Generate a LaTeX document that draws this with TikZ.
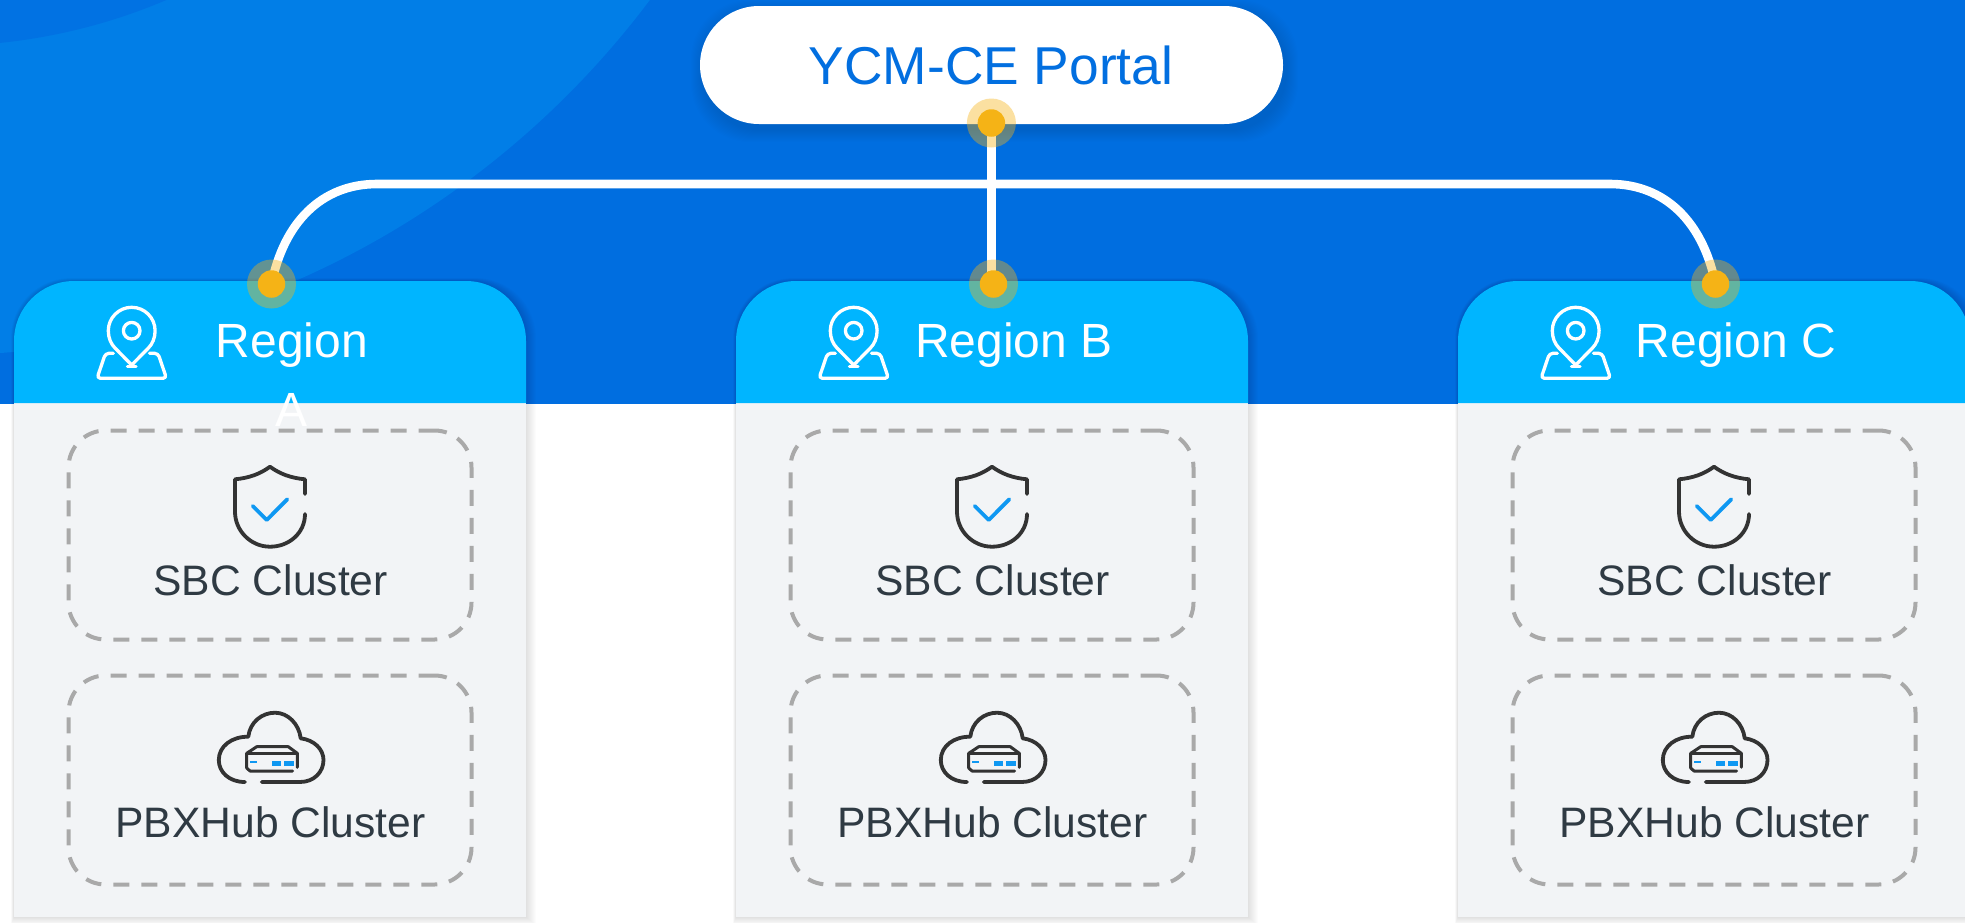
\documentclass[tikz,border=0pt]{standalone}
\usepackage{fontspec}
\setmainfont{Liberation Sans}
\usetikzlibrary{shapes.misc}
\definecolor{bgbase}{HTML}{006EE0}
\definecolor{bgmid}{HTML}{017EE7}
\definecolor{bginner}{HTML}{0172E3}
\definecolor{headcyan}{HTML}{00B5FF}
\definecolor{panelgray}{HTML}{F2F4F6}
\definecolor{dashgray}{HTML}{A9A9A9}
\definecolor{darktext}{HTML}{2F3A43}
\definecolor{iconblack}{HTML}{333333}
\definecolor{iconblue}{HTML}{0F98F2}
\definecolor{dotorange}{HTML}{F5B316}
\definecolor{portalblue}{HTML}{026FE0}
\tikzset{
  x=1pt,y=-1pt,
  clusterbox/.style={draw=dashgray,line width=4pt,dash pattern=on 16pt off 12pt,rounded corners=37pt,
    minimum width=403pt,minimum height=209pt,inner sep=0pt},
  clustertext/.style={text=darktext,font=\fontsize{42.6}{50}\selectfont,inner sep=0pt,anchor=base},
  regiontext/.style={text=white,font=\fontsize{48}{69}\selectfont,inner sep=0pt,align=center},
  link/.style={draw=white,line width=8.6pt},
  halo/.style={circle,fill=dotorange,fill opacity=.4,minimum size=49pt,inner sep=0pt},
  dotcore/.style={circle,fill=dotorange,minimum size=27.5pt,inner sep=0pt},
  iconline/.style={draw=iconblack,line width=3.8pt,line cap=round,line join=round},
  pinline/.style={draw=white,line width=3.3pt,line cap=round,line join=round},
  checkline/.style={draw=iconblue,line width=3.8pt,line cap=round,line join=round},
}
\begin{document}
\begin{tikzpicture}
\clip (0,0) rectangle (1965,922);
\fill[white] (0,0) rectangle (1965,922);
% backdrop
\begin{scope}
  \clip (0,0) rectangle (1965,404);
  \fill[bgbase] (0,0) rectangle (1965,404);
  \fill[bgmid] (-60,-532) circle[radius=887pt];
  \fill[bginner] (-60,-532) circle[radius=578pt];
\end{scope}
% portal
\foreach \s in {1,...,12}{
  \fill[black,opacity=.009,rounded corners=59pt] (700-\s+3,6-\s+6) rectangle (1283+\s+3,124+\s+6);
}
\node[rounded rectangle,fill=white,minimum width=583pt,minimum height=118pt,inner sep=0pt] (portal) at (991.5,65) {};
\node[text=portalblue,font=\fontsize{53.3}{60}\selectfont,inner sep=0pt,anchor=base] (portaltext) at (991,84) {YCM-CE Portal};
\coordinate (dotP) at (991.4,123);
\coordinate (bendL) at (377,184);
\coordinate (bendR) at (1610,184);
% region columns
\foreach \dx/\nm/\lab in {0/A/{Region\\A},722/B/{Region B},1444/C/{Region C}}{
  \begin{scope}[shift={(\dx,0)}]
    \foreach \s in {1,...,10}{
      \fill[black,opacity=.01] (14-0.3*\s,917+0.8*\s) [rounded corners=60pt] -- (14-0.3*\s,281-0.3*\s) -- (526+\s,281-0.3*\s) [sharp corners] -- (526+\s,917+0.8*\s) -- cycle;
    }
    \fill[panelgray] (14,403) rectangle (526,917);
    \fill[headcyan] (14,403) [rounded corners=60pt] -- (14,281) -- (526,281) [sharp corners] -- (526,403) -- cycle;
    \coordinate (dot\nm) at (271.5,284);
    % pin icon
    \draw[pinline] (131.7,365) -- (115,348) .. controls (111,344) and (108.3,338) .. (108.3,330.7)
      .. controls (108.3,317.8) and (118.8,307.3) .. (131.7,307.3)
      .. controls (144.6,307.3) and (155.1,317.8) .. (155.1,330.7)
      .. controls (155.1,338) and (152.4,344) .. (148.4,348) -- cycle;
    \draw[pinline] (131.7,330.7) circle[radius=8.3pt];
    \draw[pinline] (127.5,366.5) -- (136,366.5);
    \draw[pinline,rounded corners=3.5pt] (113.3,353.3) -- (105.5,353.3) -- (97,378.3) -- (166.5,378.3) -- (158,353.3) -- (149.5,353.3);
    \node[regiontext,anchor=north] (region\nm) at (292,323) {\lab};
    % SBC
    \node[clusterbox] (sbcbox\nm) at (270,535) {};
    \draw[iconline] (305,494) -- (305,479.3) .. controls (291,478) and (280,474) .. (270,466.7)
      .. controls (260,474) and (249,478) .. (235,479.3) -- (235,511.7)
      .. controls (235,531) and (251,546.7) .. (270,546.7)
      .. controls (289,546.7) and (305,533) .. (305,514);
    \draw[checkline] (252.7,506) -- (266.7,520) -- (287.3,499.3);
    \node[clustertext] (sbc\nm) at (270.6,595) {SBC Cluster};
    % PBXHub
    \node[clusterbox] (pbxbox\nm) at (270,780) {};
    \draw[iconline] (245,782) .. controls (229,782) and (218.8,772) .. (218.8,760)
      .. controls (218.8,746) and (232,736.5) .. (248.3,736.7)
      .. controls (250,722) and (262,712.7) .. (275,712.7)
      .. controls (288,712.7) and (299,724) .. (300.7,738.3)
      .. controls (314,740) and (323.5,749) .. (323.5,760)
      .. controls (323.5,772) and (314,782) .. (300,782) -- (261.7,782);
    \draw[iconline,line width=3pt] (297.3,767.3) -- (297.3,753.3) -- (288.3,746.7) -- (256.7,746.7) -- (246.7,753.3) -- (246.7,768) -- (250,771) -- (292.7,771);
    \draw[iconline,line width=3pt] (246.7,753.3) -- (297.3,753.3);
    \fill[iconblue] (272,760.7) rectangle (281.3,766);
    \fill[iconblue] (284.3,760.7) rectangle (294,766);
    \fill[iconblue] (250,760.7) rectangle (256.7,763);
    \node[clustertext] (pbx\nm) at (270.6,837) {PBXHub Cluster};
  \end{scope}
}
% connectors
\draw[link] (dotP) -- (dotP |- dotB);
\draw[link] (dotA) .. controls +(12.5,-62) and +(-55,0) .. (bendL) -- (bendR) .. controls +(55,0) and +(-12.5,-62) .. (dotC);
% dots
\foreach \nm in {P,A,B,C}{
  \node[halo] (halo\nm) at (dot\nm) {};
  \node[dotcore] (core\nm) at (dot\nm) {};
}
\end{tikzpicture}
\end{document}
